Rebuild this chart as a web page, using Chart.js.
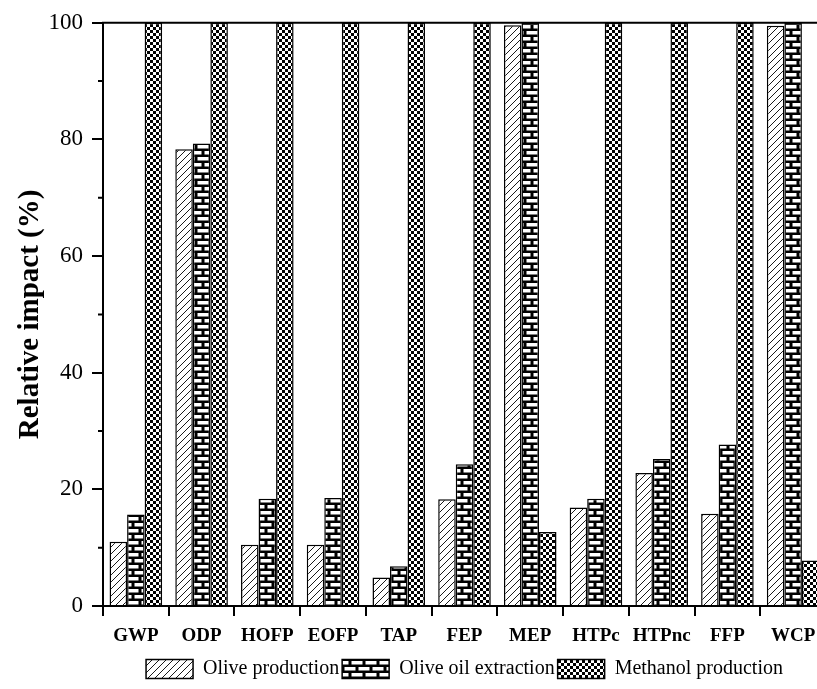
<!DOCTYPE html>
<html lang="en">
  <head>
    <meta charset="UTF-8" />
    <title>Relative impact</title>
    <script src="https://cdn.jsdelivr.net/npm/chart.js"></script>
    <style>
      html, body {
        margin: 0;
        padding: 0;
        background: #ffffff;
        overflow: hidden;
      }
      #wrap {
        width: 817px;
        height: 689px;
        overflow: hidden;
      }
    </style>
  </head>
  <body>
    <div id="wrap">
      <canvas id="chart" width="840" height="689"></canvas>
    </div>

    <script>
      const categories = ['GWP', 'ODP', 'HOFP', 'EOFP', 'TAP', 'FEP', 'MEP', 'HTPc', 'HTPnc', 'FFP', 'WCP']
      const seriesNames = ['Olive production', 'Olive oil extraction', 'Methanol production']
      const oliveProduction = [11.0, 78.3, 10.5, 10.5, 4.9, 18.3, 99.6, 16.9, 22.8, 15.8, 99.5]
      const oilExtraction = [15.7, 79.3, 18.4, 18.5, 6.8, 24.3, 100, 18.4, 25.2, 27.7, 100]
      const methanolProduction = [100, 100, 100, 100, 100, 100, 12.7, 100, 100, 100, 7.8]
      const yTicks = [0, 20, 40, 60, 80, 100]
      const yMinorTicks = [10, 30, 50, 70, 90]

      const SERIF = '"Liberation Serif", "Times New Roman", serif'

      function makeTile(w, h, draw) {
        const c = document.createElement('canvas')
        c.width = w
        c.height = h
        const g = c.getContext('2d')
        draw(g)
        return document.createElement('canvas').getContext('2d').createPattern(c, 'repeat')
      }

      // diagonal hatch
      const hatch = makeTile(7, 7, g => {
        g.fillStyle = '#fff'
        g.fillRect(0, 0, 7, 7)
        g.strokeStyle = '#000'
        g.lineWidth = 0.9
        g.beginPath()
        g.moveTo(-1, 8); g.lineTo(8, -1)
        g.moveTo(-1, 1); g.lineTo(1, -1)
        g.moveTo(6, 8); g.lineTo(8, 6)
        g.stroke()
      })

      // bricks
      const brick = makeTile(14, 12, g => {
        g.fillStyle = '#000'
        g.fillRect(0, 0, 14, 12)
        g.fillStyle = '#fff'
        g.fillRect(1.5, 1, 11, 3.5)
        g.fillRect(8.5, 7, 5.5, 3.5)
        g.fillRect(0, 7, 5.5, 3.5)
      })

      // checker
      const checker = makeTile(6, 6, g => {
        g.fillStyle = '#fff'
        g.fillRect(0, 0, 6, 6)
        g.fillStyle = '#000'
        g.fillRect(0, 0, 3, 3)
        g.fillRect(3, 3, 3, 3)
      })

      const frame = {
        id: 'frame',
        afterDraw(chart) {
          const { ctx, chartArea, scales } = chart
          ctx.save()
          ctx.strokeStyle = '#000'
          ctx.lineWidth = 2
          ctx.beginPath()
          ctx.moveTo(chartArea.left - 1, chartArea.top)
          ctx.lineTo(chart.width, chartArea.top)
          for (const v of yMinorTicks) {
            const y = scales.y.getPixelForValue(v)
            ctx.moveTo(chartArea.left - 5, y)
            ctx.lineTo(chartArea.left, y)
          }
          ctx.stroke()
          ctx.restore()
        }
      }

      new Chart(document.getElementById('chart'), {
        type: 'bar',
        data: {
          labels: categories,
          datasets: [
            { label: seriesNames[0], data: oliveProduction, backgroundColor: hatch },
            { label: seriesNames[1], data: oilExtraction, backgroundColor: brick },
            { label: seriesNames[2], data: methanolProduction, backgroundColor: checker }
          ].map(d => Object.assign(d, {
            borderColor: '#000',
            borderWidth: 1.5,
            barPercentage: 1,
            categoryPercentage: 0.8
          }))
        },
        options: {
          responsive: false,
          animation: false,
          layout: { padding: { top: 22, right: 14, bottom: 0, left: 0 } },
          plugins: {
            tooltip: { enabled: false },
            legend: {
              position: 'bottom',
              fullSize: false,
              labels: {
                color: '#000',
                font: { family: SERIF, size: 20 },
                boxWidth: 47,
                boxHeight: 19,
                padding: 3
              }
            }
          },
          scales: {
            x: {
              offset: true,
              afterFit(scale) { scale.height = 50 },
              border: { display: true, color: '#000', width: 2 },
              grid: { drawOnChartArea: false, drawTicks: true, tickLength: 10, color: '#000', lineWidth: 2 },
              ticks: {
                color: '#000',
                padding: 9,
                maxRotation: 0,
                font: { family: SERIF, size: 19, weight: 'bold' }
              }
            },
            y: {
              min: 0,
              max: 100,
              afterFit(scale) { scale.width = 103 },
              afterBuildTicks(scale) { scale.ticks = yTicks.map(v => ({ value: v })) },
              border: { display: true, color: '#000', width: 2 },
              grid: { drawOnChartArea: false, drawTicks: true, tickLength: 11, color: '#000', lineWidth: 2 },
              ticks: {
                color: '#000',
                padding: 9,
                font: { family: SERIF, size: 23 }
              },
              title: {
                display: true,
                text: 'Relative impact (%)',
                color: '#000',
                padding: { top: 13, bottom: 0 },
                font: { family: SERIF, size: 29, weight: 'bold' }
              }
            }
          }
        },
        plugins: [frame]
      })
    </script>
  </body>
</html>
